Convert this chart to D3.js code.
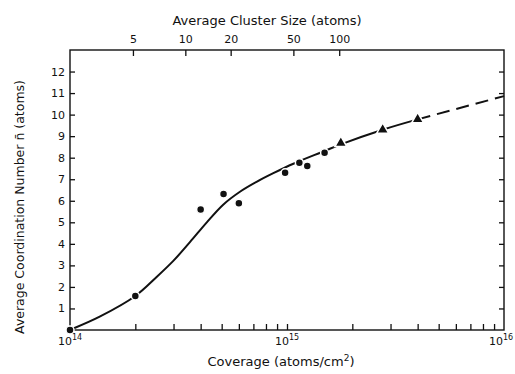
<!DOCTYPE html>
<html>
<head>
<meta charset="utf-8">
<script src="https://cdn.jsdelivr.net/npm/d3@7"></script>
<style>
  html, body { margin: 0; padding: 0; background: #fff; }
  svg { display: block; }
  text { font-family: "DejaVu Sans", sans-serif; fill: #111; }
</style>
</head>
<body>
<svg id="chart" width="515" height="374"></svg>
<script>
// ---- data ----
const circleCoverage = [1e14, 2e14, 4e14, 5.1e14, 6e14, 9.8e14, 1.14e15, 1.24e15, 1.49e15];
const circleN        = [0, 1.58, 5.6, 6.31, 5.88, 7.30, 7.77, 7.61, 8.23];
const triCoverage = [1.77e15, 2.76e15, 4.0e15];
const triN        = [8.68, 9.3, 9.78];
const fitCoverage = [1.03e14, 1.37e14, 2e14, 2.5e14, 3e14, 3.57e14, 4.27e14, 5.08e14, 6.07e14, 7.24e14, 8.65e14, 1.07e15, 1.48e15, 1.77e15, 2.76e15, 4.0e15];
const fitN        = [0.06, 0.62, 1.58, 2.45, 3.22, 4.08, 5.0, 5.82, 6.42, 6.88, 7.28, 7.72, 8.30, 8.62, 9.3, 9.78];
const extCoverage = [4.0e15, 1e16];
const extN        = [9.78, 10.86];
const clusterSizes    = [5, 10, 20, 50, 100];
const clusterCoverage = [1.95e14, 3.4e14, 5.5e14, 1.07e15, 1.74e15];
const minorTicks = [2e14,3e14,4e14,5e14,6e14,7e14,8e14,9e14,1e15,2e15,3e15,4e15,5e15,6e15,7e15,8e15,9e15];
const decadeTicks = [1e14, 1e15, 1e16];
const decadeExp = ["14", "15", "16"];
const yTicks = [1,2,3,4,5,6,7,8,9,10,11,12];

// ---- layout ----
const L = 70, R = 504, T = 50, B = 330;
const svg = d3.select("#chart");
const x = d3.scaleLog().domain([1e14, 1e16]).range([L, R]);
const y = d3.scaleLinear().domain([0, 13]).range([B, T]);

// frame
svg.append("rect").attr("x", L).attr("y", T).attr("width", R - L).attr("height", B - T)
  .attr("fill", "none").attr("stroke", "#111").attr("stroke-width", 1.4);

function styleAxis(g) {
  g.select(".domain").remove();
  g.selectAll(".tick line").attr("stroke", "#111").attr("stroke-width", 1.3);
  g.selectAll(".tick text").attr("font-size", 11).attr("fill", "#111")
    .attr("font-family", "DejaVu Sans, sans-serif");
}

// bottom ticks
svg.append("g").attr("transform", `translate(0,${B})`)
  .call(d3.axisBottom(x).tickValues(minorTicks).tickSize(-6).tickFormat(""))
  .call(styleAxis);

// decade labels
const dl = svg.append("g");
decadeTicks.forEach((d, i) => {
  const t = dl.append("text").attr("x", x(d) - (i === 2 ? 3 : 0)).attr("y", 345)
    .attr("text-anchor", "middle").attr("font-size", 11);
  t.append("tspan").text("10");
  t.append("tspan").attr("font-size", 8).attr("dy", -5).text(decadeExp[i]);
});

// top axis (cluster size)
svg.append("g").attr("transform", `translate(0,${T})`)
  .call(d3.axisTop(x).tickValues(clusterCoverage).tickSize(-6).tickPadding(7)
    .tickFormat((d, i) => clusterSizes[i]))
  .call(styleAxis);

// left axis
svg.append("g").attr("transform", `translate(${L},0)`)
  .call(d3.axisLeft(y).tickValues(yTicks).tickSize(-5).tickPadding(5))
  .call(styleAxis);

// right ticks
svg.append("g").attr("transform", `translate(${R},0)`)
  .call(d3.axisRight(y).tickValues(yTicks).tickSize(-5).tickFormat(""))
  .call(styleAxis);

// titles
svg.append("text").attr("x", 267).attr("y", 25).attr("text-anchor", "middle")
  .attr("font-size", 13).text("Average Cluster Size (atoms)");
const xl = svg.append("text").attr("x", 281).attr("y", 366).attr("text-anchor", "middle")
  .attr("font-size", 13);
xl.append("tspan").text("Coverage (atoms/cm");
xl.append("tspan").attr("font-size", 9).attr("dy", -5).text("2");
xl.append("tspan").attr("dy", 5).text(")");
svg.append("text").attr("transform", "translate(24,207) rotate(-90)")
  .attr("text-anchor", "middle").attr("font-size", 12.5)
  .text("Average Coordination Number n\u0304 (atoms)");

// curves
const line = d3.line().x(d => x(d[0])).y(d => y(d[1])).curve(d3.curveCatmullRom.alpha(0.5));
svg.append("path").datum(fitCoverage.map((c, i) => [c, fitN[i]]))
  .attr("d", line).attr("fill", "none").attr("stroke", "#111").attr("stroke-width", 2);
svg.append("path").datum(extCoverage.map((c, i) => [c, extN[i]]))
  .attr("d", d3.line().x(d => x(d[0])).y(d => y(d[1])))
  .attr("fill", "none").attr("stroke", "#111").attr("stroke-width", 2)
  .attr("stroke-dasharray", "13,7");

// markers
svg.append("g").selectAll("circle").data(circleCoverage).join("circle")
  .attr("cx", d => x(d)).attr("cy", (d, i) => y(circleN[i])).attr("r", 4)
  .attr("fill", "#111").attr("stroke", "#fff").attr("stroke-width", 1.5);
svg.append("g").selectAll("path").data(triCoverage).join("path")
  .attr("d", d3.symbol(d3.symbolTriangle, 62))
  .attr("transform", (d, i) => `translate(${x(d)},${y(triN[i])})`)
  .attr("fill", "#111").attr("stroke", "#fff").attr("stroke-width", 1.5);
</script>
</body>
</html>
